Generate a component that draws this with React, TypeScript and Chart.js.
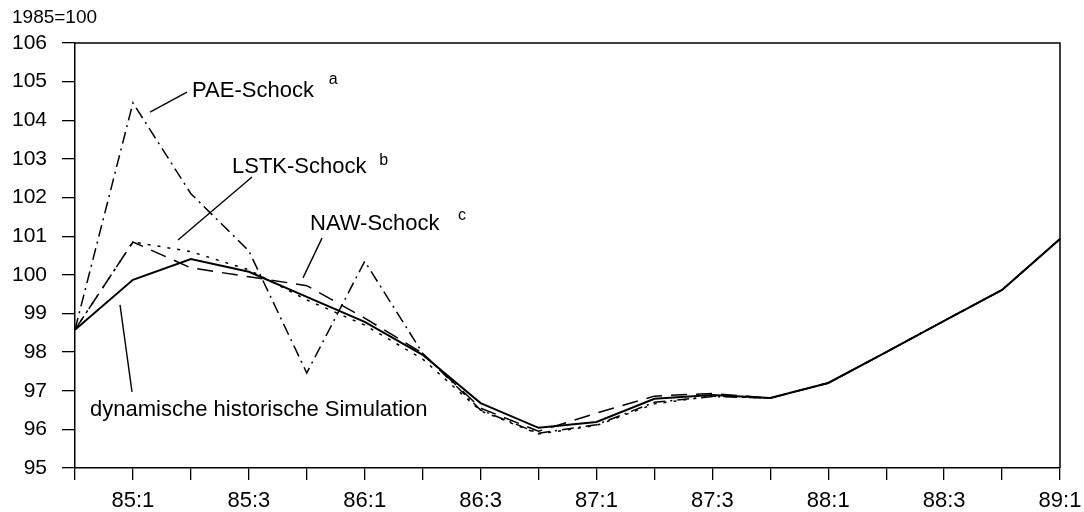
import React, { useEffect, useRef } from 'react';
import { Chart, registerables } from 'chart.js';

Chart.register(...registerables);

// Quarters 84:4 ... 89:1
const quarters = ['84:4', '85:1', '85:2', '85:3', '85:4', '86:1', '86:2', '86:3', '86:4', '87:1', '87:2', '87:3', '87:4', '88:1', '88:2', '88:3', '88:4', '89:1'];
const shownTickLabels = ['85:1', '85:3', '86:1', '86:3', '87:1', '87:3', '88:1', '88:3', '89:1'];

const historicSimulation = [98.58, 99.87, 100.41, 100.08, 99.43, 98.78, 97.93, 96.68, 96.04, 96.19, 96.79, 96.89, 96.81, 97.2, 98.0, 98.81, 99.61, 100.93];
const paeShock = [98.58, 104.45, 102.1, 100.62, 97.46, 100.35, 97.97, 96.5, 95.9, 96.12, 96.7, 96.85, 96.81, 97.2, 98.0, 98.81, 99.61, 100.93];
const lstkShock = [98.58, 100.85, 100.6, 100.13, 99.35, 98.7, 97.82, 96.48, 95.88, 96.1, 96.66, 96.86, 96.81, 97.2, 98.0, 98.81, 99.61, 100.93];
const nawShock = [98.58, 100.85, 100.18, 99.95, 99.72, 98.88, 97.97, 96.55, 95.95, 96.42, 96.86, 96.93, 96.81, 97.2, 98.0, 98.81, 99.61, 100.93];

const yMin = 95;
const yMax = 106;
const unitLabel = '1985=100';

// Annotation texts, anchored in data space (x = quarter index, y = index value)
const annotationTexts = ['PAE-Schock', 'LSTK-Schock', 'NAW-Schock', 'dynamische historische Simulation'];
const annotationSups = ['a', 'b', 'c', ''];
const annotationTextAt = [[2.02, 104.6], [2.71, 102.63], [4.056, 101.16], [0.259, 96.35]];
const annotationSupAt = [[4.38, 104.94], [5.25, 102.84], [6.61, 101.42], [0, 0]];
const annotationLines = [
  [[1.933, 104.73], [1.294, 104.21]],
  [[3.055, 102.53], [1.778, 100.9]],
  [[4.263, 100.95], [3.935, 99.92]],
  [[0.777, 99.22], [0.984, 96.97]],
];

const FONT = '"Liberation Sans", Arial, Helvetica, sans-serif';

const framePlugin = {
  id: 'frameAndNotes',
  afterDatasetsDraw(chart: any) {
    const { ctx, chartArea, scales } = chart;
    const xs = scales.x;
    const ys = scales.y;
    ctx.save();
    // frame (top and right sides)
    ctx.strokeStyle = '#000';
    ctx.lineWidth = 1.5;
    ctx.beginPath();
    ctx.moveTo(chartArea.left, chartArea.top);
    ctx.lineTo(chartArea.right, chartArea.top);
    ctx.lineTo(chartArea.right, chartArea.bottom);
    ctx.stroke();

    // pointer lines
    ctx.lineWidth = 1.4;
    annotationLines.forEach((ln) => {
      ctx.beginPath();
      ctx.moveTo(xs.getPixelForValue(ln[0][0]), ys.getPixelForValue(ln[0][1]));
      ctx.lineTo(xs.getPixelForValue(ln[1][0]), ys.getPixelForValue(ln[1][1]));
      ctx.stroke();
    });

    // texts
    ctx.fillStyle = '#000';
    ctx.textBaseline = 'alphabetic';
    ctx.textAlign = 'left';
    annotationTexts.forEach((t, i) => {
      ctx.font = `22px ${FONT}`;
      ctx.fillText(t, xs.getPixelForValue(annotationTextAt[i][0]), ys.getPixelForValue(annotationTextAt[i][1]));
      if (annotationSups[i]) {
        ctx.font = `16px ${FONT}`;
        ctx.fillText(annotationSups[i], xs.getPixelForValue(annotationSupAt[i][0]), ys.getPixelForValue(annotationSupAt[i][1]));
      }
    });

    // unit label
    ctx.font = `19px ${FONT}`;
    ctx.fillText(unitLabel, 12, 23);
    ctx.restore();
  },
};

export default function App() {
  const canvasRef = useRef<HTMLCanvasElement | null>(null);

  useEffect(() => {
    if (!canvasRef.current) return;
    const chart = new Chart(canvasRef.current, {
      type: 'line',
      data: {
        labels: quarters,
        datasets: [
          {
            label: 'dynamische historische Simulation',
            data: historicSimulation,
            borderColor: '#000',
            borderWidth: 2,
            pointRadius: 0,
            tension: 0,
            fill: false,
          },
          {
            label: 'PAE-Schock',
            data: paeShock,
            borderColor: '#000',
            borderWidth: 1.5,
            borderDash: [12, 5, 2, 5],
            pointRadius: 0,
            tension: 0,
            fill: false,
          },
          {
            label: 'LSTK-Schock',
            data: lstkShock,
            borderColor: '#000',
            borderWidth: 1.5,
            borderDash: [3, 7],
            pointRadius: 0,
            tension: 0,
            fill: false,
          },
          {
            label: 'NAW-Schock',
            data: nawShock,
            borderColor: '#000',
            borderWidth: 1.5,
            borderDash: [16, 9],
            pointRadius: 0,
            tension: 0,
            fill: false,
          },
        ],
      },
      options: {
        responsive: false,
        animation: false,
        devicePixelRatio: 1,
        layout: { padding: { top: 43, right: 24, left: 0, bottom: 0 } },
        plugins: {
          legend: { display: false },
          tooltip: { enabled: false },
          title: { display: false },
        },
        scales: {
          x: {
            type: 'category',
            offset: false,
            afterFit: (scale: any) => {
              scale.height = 44;
              scale.paddingRight = 0;
              scale.paddingLeft = 0;
            },
            grid: {
              display: true,
              offset: false,
              drawOnChartArea: false,
              drawTicks: true,
              tickLength: 12,
              color: '#000',
              lineWidth: 1.3,
            },
            border: { display: true, color: '#000', width: 1.5 },
            ticks: {
              autoSkip: false,
              maxRotation: 0,
              minRotation: 0,
              padding: 8,
              color: '#000',
              font: { family: FONT, size: 22 },
              callback: (_v: any, i: number) => (shownTickLabels.includes(quarters[i]) ? quarters[i] : ''),
            },
          },
          y: {
            min: yMin,
            max: yMax,
            afterFit: (scale: any) => {
              scale.width = 75;
            },
            grid: {
              display: true,
              drawOnChartArea: false,
              drawTicks: true,
              tickLength: 13,
              color: '#000',
              lineWidth: 1.3,
            },
            border: { display: true, color: '#000', width: 1.5 },
            ticks: {
              stepSize: 1,
              padding: 15,
              color: '#000',
              font: { family: FONT, size: 21 },
            },
          },
        },
      },
      plugins: [framePlugin],
    });
    return () => chart.destroy();
  }, []);

  return (
    <div style={{ position: 'fixed', left: 0, top: 0, width: 1084, height: 512, background: '#fff' }}>
      <canvas ref={canvasRef} width={1084} height={512} style={{ display: 'block' }} />
    </div>
  );
}
